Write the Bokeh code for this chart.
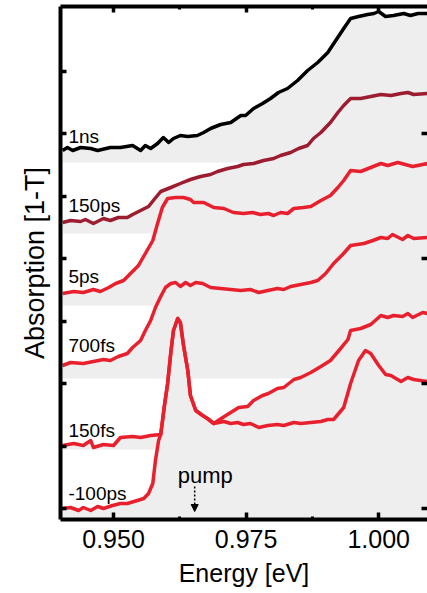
import numpy as np
from bokeh.plotting import figure
from bokeh.models import (Range1d, LinearAxis, FixedTicker, Arrow, NormalHead, Title,
                          CustomJSTickFormatter, NumeralTickFormatter)
from bokeh.embed import file_html
from bokeh.resources import INLINE
from bokeh.core.properties import value

# ---------------- data ----------------
labels = ["1ns", "150ps", "5ps", "700fs", "150fs", "-100ps"]
offsets = [2.768, 2.200, 1.624, 1.040, 0.472, -0.088]
label_heights = [0.208, 0.224, 0.232, 0.264, 0.152, 0.208]
pump_energy = 0.9653

e_1ns = [0.9404, 0.9413, 0.9423, 0.9438, 0.9457, 0.9470, 0.9494, 0.9513, 0.9536, 0.9551, 0.9560, 0.9570,
         0.9583, 0.9594, 0.9604, 0.9613, 0.9626, 0.9640, 0.9658, 0.9670, 0.9683, 0.9702, 0.9721, 0.9740,
         0.9749, 0.9764, 0.9781, 0.9796, 0.9811, 0.9828, 0.9847, 0.9866, 0.9885, 0.9904, 0.9919, 0.9934,
         0.9947, 0.9962, 0.9979, 0.9991, 1.0000, 1.0013, 1.0028, 1.0047, 1.0060, 1.0074, 1.0092]
a_1ns = [0.096, 0.12, 0.096, 0.12, 0.112, 0.096, 0.12, 0.12, 0.136, 0.096, 0.136, 0.112,
         0.152, 0.2, 0.16, 0.192, 0.216, 0.208, 0.216, 0.24, 0.272, 0.304, 0.32, 0.376,
         0.376, 0.432, 0.472, 0.512, 0.56, 0.592, 0.656, 0.736, 0.8, 0.88, 0.976, 1.072,
         1.152, 1.168, 1.184, 1.192, 1.208, 1.168, 1.176, 1.192, 1.176, 1.192, 1.192]

e_150ps = [0.9404, 0.9419, 0.9438, 0.9447, 0.9462, 0.9481, 0.9494, 0.9509, 0.9526, 0.9536, 0.9551, 0.9566,
           0.9575, 0.9589, 0.9608, 0.9626, 0.9645, 0.9664, 0.9683, 0.9696, 0.9715, 0.9734, 0.9745, 0.9764,
           0.9783, 0.9802, 0.9815, 0.9834, 0.9849, 0.9866, 0.9877, 0.9891, 0.9909, 0.9923, 0.9934, 0.9947,
           0.9966, 0.9985, 1.0004, 1.0023, 1.0042, 1.0055, 1.0066, 1.0092]
a_150ps = [0.088, 0.104, 0.096, 0.112, 0.08, 0.12, 0.104, 0.128, 0.128, 0.152, 0.184, 0.216,
           0.264, 0.336, 0.368, 0.4, 0.432, 0.456, 0.472, 0.496, 0.52, 0.536, 0.552, 0.56,
           0.584, 0.6, 0.624, 0.648, 0.68, 0.704, 0.76, 0.808, 0.888, 0.968, 1.024, 1.08,
           1.08, 1.096, 1.112, 1.104, 1.12, 1.128, 1.112, 1.12]

e_5ps = [0.9404, 0.9425, 0.9443, 0.9462, 0.9475, 0.9491, 0.9504, 0.9519, 0.9532, 0.9547, 0.9560, 0.9574,
         0.9583, 0.9592, 0.9602, 0.9617, 0.9632, 0.9645, 0.9651, 0.9670, 0.9689, 0.9708, 0.9726, 0.9745,
         0.9762, 0.9777, 0.9792, 0.9802, 0.9815, 0.9828, 0.9840, 0.9858, 0.9872, 0.9891, 0.9909, 0.9923,
         0.9934, 0.9947, 0.9966, 0.9985, 1.0004, 1.0017, 1.0036, 1.0064, 1.0092]
a_5ps = [0.096, 0.112, 0.104, 0.128, 0.112, 0.144, 0.176, 0.2, 0.256, 0.32, 0.416, 0.52,
         0.656, 0.784, 0.856, 0.864, 0.864, 0.848, 0.824, 0.824, 0.784, 0.776, 0.744, 0.736,
         0.744, 0.728, 0.736, 0.72, 0.744, 0.736, 0.776, 0.784, 0.792, 0.84, 0.88, 0.944,
         1.0, 1.08, 1.072, 1.104, 1.136, 1.12, 1.144, 1.112, 1.136]

e_700fs = [0.9404, 0.9419, 0.9443, 0.9462, 0.9481, 0.9494, 0.9509, 0.9526, 0.9536, 0.9551, 0.9560, 0.9570,
           0.9579, 0.9589, 0.9598, 0.9608, 0.9617, 0.9626, 0.9636, 0.9645, 0.9655, 0.9668, 0.9683, 0.9702,
           0.9721, 0.9740, 0.9758, 0.9774, 0.9791, 0.9809, 0.9821, 0.9834, 0.9853, 0.9872, 0.9885, 0.9900,
           0.9915, 0.9932, 0.9947, 0.9972, 0.9989, 1.0004, 1.0017, 1.0026, 1.0045, 1.0055, 1.0066, 1.0092]
a_700fs = [0.104, 0.128, 0.12, 0.136, 0.152, 0.144, 0.176, 0.2, 0.248, 0.304, 0.384, 0.464,
           0.568, 0.656, 0.728, 0.76, 0.768, 0.736, 0.768, 0.744, 0.768, 0.76, 0.728, 0.72,
           0.712, 0.704, 0.712, 0.688, 0.704, 0.72, 0.712, 0.736, 0.752, 0.768, 0.784, 0.84,
           0.92, 0.992, 1.064, 1.08, 1.104, 1.128, 1.12, 1.152, 1.112, 1.144, 1.12, 1.128]

e_150fs = [0.9404, 0.9425, 0.9443, 0.9457, 0.9462, 0.9481, 0.9500, 0.9513, 0.9536, 0.9551, 0.9570, 0.9589,
           0.9596, 0.9602, 0.9608, 0.9613, 0.9621, 0.9626, 0.9632, 0.9640, 0.9645, 0.9655, 0.9668, 0.9677,
           0.9689, 0.9706, 0.9721, 0.9736, 0.9753, 0.9764, 0.9781, 0.9792, 0.9809, 0.9821, 0.9840, 0.9853,
           0.9872, 0.9891, 0.9909, 0.9925, 0.9942, 0.9947, 0.9966, 0.9985, 1.0004, 1.0017, 1.0028, 1.0045,
           1.0055, 1.0064, 1.0083, 1.0092]
a_150fs = [0.032, 0.048, 0.032, 0.072, 0.016, 0.04, 0.032, 0.096, 0.104, 0.096, 0.112, 0.12,
           0.352, 0.528, 0.776, 0.952, 1.048, 1.016, 0.832, 0.632, 0.432, 0.312, 0.272, 0.248,
           0.208, 0.256, 0.296, 0.336, 0.344, 0.392, 0.432, 0.448, 0.488, 0.496, 0.56, 0.576,
           0.616, 0.664, 0.712, 0.792, 0.88, 0.952, 0.968, 1.0, 1.072, 1.056, 1.072, 1.064,
           1.088, 1.056, 1.096, 1.088]

e_m100ps = [0.9404, 0.9419, 0.9434, 0.9443, 0.9457, 0.9470, 0.9481, 0.9498, 0.9513, 0.9526, 0.9545, 0.9557,
            0.9566, 0.9574, 0.9579, 0.9585, 0.9589, 0.9596, 0.9602, 0.9608, 0.9613, 0.9621, 0.9626, 0.9632,
            0.9640, 0.9645, 0.9655, 0.9668, 0.9677, 0.9689, 0.9708, 0.9721, 0.9734, 0.9745, 0.9758, 0.9774,
            0.9791, 0.9809, 0.9821, 0.9840, 0.9853, 0.9872, 0.9891, 0.9904, 0.9915, 0.9934, 0.9947, 0.9962,
            0.9975, 0.9985, 1.0000, 1.0013, 1.0023, 1.0042, 1.0055, 1.0066, 1.0092]
a_m100ps = [0.088, 0.096, 0.072, 0.096, 0.072, 0.104, 0.088, 0.112, 0.128, 0.128, 0.152, 0.168,
            0.208, 0.288, 0.472, 0.632, 0.68, 0.912, 1.088, 1.336, 1.512, 1.608, 1.576, 1.392,
            1.192, 0.992, 0.872, 0.832, 0.808, 0.768, 0.784, 0.768, 0.776, 0.76, 0.768, 0.736,
            0.752, 0.76, 0.752, 0.776, 0.768, 0.776, 0.784, 0.8, 0.8, 0.896, 1.088, 1.272,
            1.352, 1.328, 1.232, 1.16, 1.152, 1.104, 1.136, 1.12, 1.104]

energies = [e_1ns, e_150ps, e_5ps, e_700fs, e_150fs, e_m100ps]
absorb = [a_1ns, a_150ps, a_5ps, a_700fs, a_150fs, a_m100ps]
colors = ["#000000", "#9c1c30", "#e8202e", "#e8202e", "#e8202e", "#e8202e"]

FONT = "Liberation Sans"

p = figure(width=427, height=593,
           x_range=Range1d(0.940, 1.0092), y_range=Range1d(-0.088, 4.016),
           output_backend="svg", toolbar_location=None,
           min_border_left=60, min_border_right=0, min_border_top=6, min_border_bottom=74)
p.outline_line_color = None
p.xgrid.visible = False
p.ygrid.visible = False
p.background_fill_color = "white"
p.border_fill_color = "white"

# grey bands under each curve
for e, a, off in zip(energies, absorb, offsets):
    y = [off + v for v in a]
    p.varea(x=e, y1=[off] * len(e), y2=y, fill_color="#eeeeee")

for e, a, off, c in zip(energies, absorb, offsets, colors):
    y = [off + v for v in a]
    p.line(e, y, line_color=c, line_width=3.5, line_join="round")

# curve labels
p.text(x=[0.9415] * len(labels), y=[o + h for o, h in zip(offsets, label_heights)], text=labels,
       text_font=value(FONT), text_font_size="19px", text_align="left",
       text_baseline="alphabetic", text_color="black")

# pump marker
p.text(x=[0.9621], y=[0.264], text=["pump"], text_font=value(FONT), text_font_size="22px",
       text_align="left", text_baseline="alphabetic", text_color="black")
p.add_layout(Arrow(end=NormalHead(size=7, fill_color="black", line_color="black", line_width=1),
                   x_start=pump_energy, y_start=0.176, x_end=pump_energy, y_end=-0.024,
                   line_color="black", line_width=1.5, line_dash="2 2"))

empty = CustomJSTickFormatter(code="return ''")
xt = FixedTicker(ticks=[0.950, 0.975, 1.000], minor_ticks=[0.9625, 0.9875])

# bottom axis
xa = p.xaxis[0]
xa.ticker = xt
xa.formatter = NumeralTickFormatter(format="0.000")
xa.axis_label = "Energy [eV]"
xa.axis_label_text_font = FONT
xa.axis_label_text_font_size = "25px"
xa.axis_label_text_font_style = "normal"
xa.axis_label_text_color = "black"
xa.axis_label_standoff = 8
xa.major_label_text_font = FONT
xa.major_label_text_font_size = "25px"
xa.major_label_text_color = "black"
xa.major_label_standoff = 10
xa.axis_line_width = 4
xa.major_tick_in = 7
xa.major_tick_out = 0
xa.minor_tick_in = 3
xa.minor_tick_out = 0
xa.major_tick_line_width = 3.5
xa.minor_tick_line_width = 3

# left axis
ya = p.yaxis[0]
ya.ticker = FixedTicker(ticks=[0, 0.5, 1.0, 1.5, 2.0, 2.5, 3.0, 3.5])
ya.formatter = empty
ya.major_label_text_font_size = "0px"
ya.major_label_standoff = 0
ya.axis_line_width = 4
ya.major_tick_in = 6
ya.major_tick_out = 0
ya.major_tick_line_width = 3.5
ya.minor_tick_line_color = None

# y-axis title in the left panel, shifted along the axis like the reference
p.add_layout(Title(text="Absorption [1-T]", align="center", offset=13, standoff=22,
                   text_font=FONT, text_font_size="27px", text_font_style="normal",
                   text_color="black"), "left")

# top axis
top = LinearAxis(ticker=xt, formatter=empty, axis_line_width=4,
                 major_tick_in=6, major_tick_out=0, minor_tick_in=3, minor_tick_out=0,
                 major_tick_line_width=3.5, minor_tick_line_width=3, major_label_standoff=0,
                 major_label_text_font_size="0px")
p.add_layout(top, "above")

# right axis (ticks only; frame edge falls at the picture edge)
right = LinearAxis(ticker=FixedTicker(ticks=[0, 1, 2, 3]), formatter=empty, axis_line_color=None,
                   major_tick_in=6, major_tick_out=0, major_tick_line_width=3.5,
                   minor_tick_line_color=None, major_label_standoff=0,
                   major_label_text_font_size="0px")
p.add_layout(right, "right")

open("out.html", "w").write(file_html(p, INLINE))
